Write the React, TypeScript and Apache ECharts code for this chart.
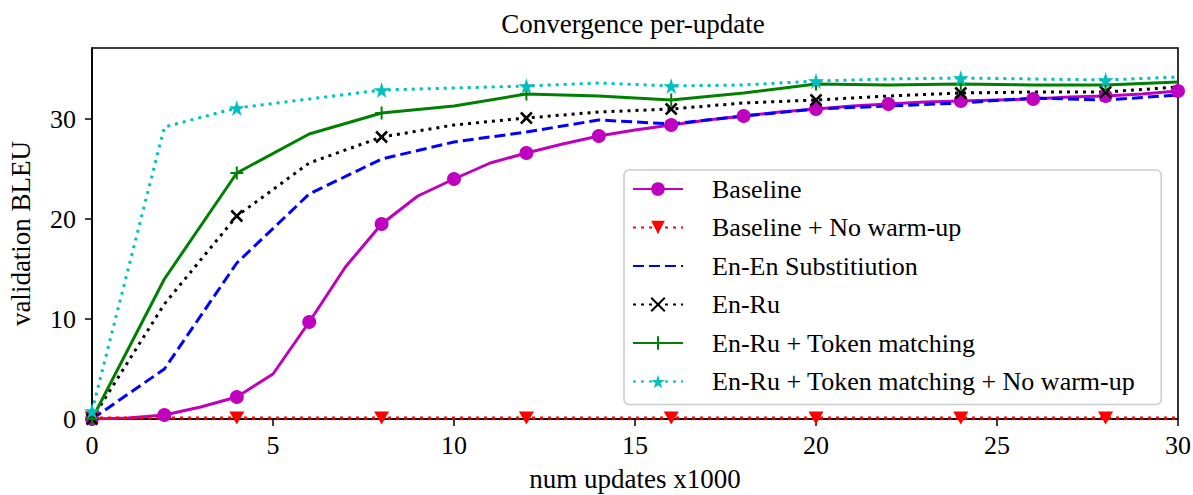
import React, { useEffect, useRef } from "react";
import * as echarts from "echarts";

const FONT = "'Liberation Serif', 'DejaVu Serif', serif";

const baselineX = [0,1,2,3,4,5,6,7,8,9,10,11,12,13,14,15,16,17,18,19,20,21,22,23,24,25,26,27,28,29,30];
const baselineY = [0,0.1,0.4,1.2,2.2,4.5,9.7,15.2,19.5,22.3,24.0,25.6,26.6,27.5,28.3,28.9,29.4,29.9,30.3,30.7,31.0,31.3,31.5,31.7,31.8,31.9,32.0,32.2,32.3,32.5,32.8];

const stepX = [0,2,4,6,8,10,12,14,16,18,20,22,24,26,28,30];
const noWarmY = [0.1,0.1,0.1,0.1,0.1,0.1,0.1,0.1,0.1,0.1,0.1,0.1,0.1,0.1,0.1,0.1];
const enEnY = [0,5.0,15.6,22.5,26.0,27.7,28.7,29.9,29.5,30.3,31.0,31.3,31.6,32.1,31.9,32.4];
const enRuY = [0,11.5,20.3,25.6,28.2,29.4,30.1,30.7,31.0,31.6,31.9,32.3,32.6,32.7,32.7,33.2];
const tokenY = [0,14.0,24.6,28.5,30.6,31.3,32.5,32.3,31.9,32.6,33.5,33.4,33.5,33.4,33.4,33.7];
const tokenNoWarmY = [0.8,29.2,31.1,32.0,32.9,33.1,33.3,33.6,33.3,33.4,33.8,34.0,34.1,34.0,33.9,34.2];

const xTicks = [0,5,10,15,20,25,30];
const yTicks = [0,10,20,30];

const STAR = "path://M50,0 L61,35 L98,35 L68,57 L79,91 L50,70 L21,91 L32,57 L2,35 L39,35 Z";
const CROSS = "path://M0,0L10,10M10,0L0,10";
const PLUS = "path://M5,0L5,10M0,5L10,5";
const EMPTY = "path://M0,0L1,0L1,1L0,1Z";

function mk(xs: number[], ys: number[], every: number, symbol: string) {
  return xs.map((x, i) => ({
    value: [x, ys[i]],
    symbol: i % every === 0 ? symbol : "none",
  }));
}

export default function App() {
  const ref = useRef<HTMLDivElement>(null);
  useEffect(() => {
    document.body.style.margin = "0";
    const chart = echarts.init(ref.current!, null, { renderer: "svg" });
    const common = {
      type: "line",
      showAllSymbol: true,
      animation: false,
      z: 2,
    };
    const series: any[] = [
      {
        ...common,
        name: "Baseline",
        data: mk(baselineX, baselineY, 2, "circle"),
        symbol: "circle",
        symbolSize: 14,
        color: "#bf00bf",
        lineStyle: { color: "#bf00bf", width: 3 },
        itemStyle: { color: "#bf00bf" },
      },
      {
        ...common,
        name: "Baseline + No warm-up",
        data: mk(stepX, noWarmY, 2, "triangle"),
        symbol: "triangle",
        symbolRotate: 180,
        symbolSize: [15, 13],
        color: "#ff0000",
        lineStyle: { color: "#ff0000", width: 3, type: [3, 5], cap: "butt" },
        itemStyle: { color: "#ff0000" },
      },
      {
        ...common,
        name: "En-En Substitiution",
        data: mk(stepX, enEnY, 2, "none"),
        symbol: EMPTY,
        symbolSize: 2,
        color: "#0000ff",
        lineStyle: { color: "#0000ff", width: 3, type: [11, 5], cap: "butt" },
        itemStyle: { color: "rgba(0,0,0,0)", borderWidth: 0 },
      },
      {
        ...common,
        name: "En-Ru",
        data: mk(stepX, enRuY, 2, CROSS),
        symbol: CROSS,
        symbolSize: 11,
        color: "#000000",
        lineStyle: { color: "#000000", width: 3, type: [3, 5], cap: "butt" },
        itemStyle: { color: "#000000", borderColor: "#000000", borderWidth: 2.5 },
      },
      {
        ...common,
        name: "En-Ru + Token matching",
        data: mk(stepX, tokenY, 2, PLUS),
        symbol: PLUS,
        symbolSize: 13,
        color: "#008000",
        lineStyle: { color: "#008000", width: 3 },
        itemStyle: { color: "#008000", borderColor: "#008000", borderWidth: 2 },
      },
      {
        ...common,
        name: "En-Ru + Token matching + No warm-up",
        data: mk(stepX, tokenNoWarmY, 2, STAR),
        symbol: STAR,
        symbolSize: 16,
        color: "#00bfbf",
        lineStyle: { color: "#00bfbf", width: 3, type: [3, 5], cap: "butt" },
        itemStyle: { color: "#00bfbf" },
      },
    ];
    chart.setOption({
      animation: false,
      textStyle: { fontFamily: FONT },
      grid: {
        left: 92,
        right: 15,
        top: 48,
        bottom: 76,
        containLabel: false,
        outerBoundsMode: "none",
        show: true,
        borderColor: "#000",
        borderWidth: 1.6,
        backgroundColor: "transparent",
      },
      graphic: [
        {
          type: "text",
          x: 633,
          y: 24,
          style: {
            text: "Convergence per-update",
            textAlign: "center",
            textVerticalAlign: "middle",
            font: `27px ${FONT}`,
            fill: "#000",
          },
        },
      ],
      xAxis: {
        type: "value",
        min: 0,
        max: 30,
        interval: 5,
        name: "num updates x1000",
        nameLocation: "middle",
        nameGap: 46,
        nameTextStyle: { fontSize: 27, fontFamily: FONT, color: "#000" },
        axisLine: { show: true, lineStyle: { color: "#000", width: 1.6 } },
        axisTick: { show: true, inside: false, length: 7, lineStyle: { color: "#000", width: 1.5 }, customValues: xTicks },
        axisLabel: { fontSize: 26, fontFamily: FONT, color: "#000", margin: 13, customValues: xTicks },
        splitLine: { show: false },
      },
      yAxis: {
        type: "value",
        min: 0,
        max: 37.1,
        interval: 10,
        name: "validation BLEU",
        nameLocation: "middle",
        nameGap: 58,
        nameTextStyle: { fontSize: 27, fontFamily: FONT, color: "#000" },
        axisLine: { show: true, lineStyle: { color: "#000", width: 1.6 } },
        axisTick: { show: true, inside: false, length: 7, lineStyle: { color: "#000", width: 1.5 }, customValues: yTicks },
        axisLabel: { fontSize: 26, fontFamily: FONT, color: "#000", margin: 16, customValues: yTicks },
        splitLine: { show: false },
      },
      legend: {
        orient: "vertical",
        left: 624,
        top: 170,
        itemWidth: 50,
        itemHeight: 17,
        itemGap: 12.5,
        padding: [6, 26, 10, 8],
        backgroundColor: "rgba(255,255,255,0.85)",
        borderColor: "#cccccc",
        borderWidth: 1.5,
        borderRadius: 5,
        textStyle: { fontSize: 26, fontFamily: FONT, color: "#000", lineHeight: 26, padding: [0, 0, 0, 24] },
        data: series.map((s) => s.name),
      },
      series,
    });
    return () => chart.dispose();
  }, []);
  return <div ref={ref} style={{ width: 1193, height: 495 }} />;
}
